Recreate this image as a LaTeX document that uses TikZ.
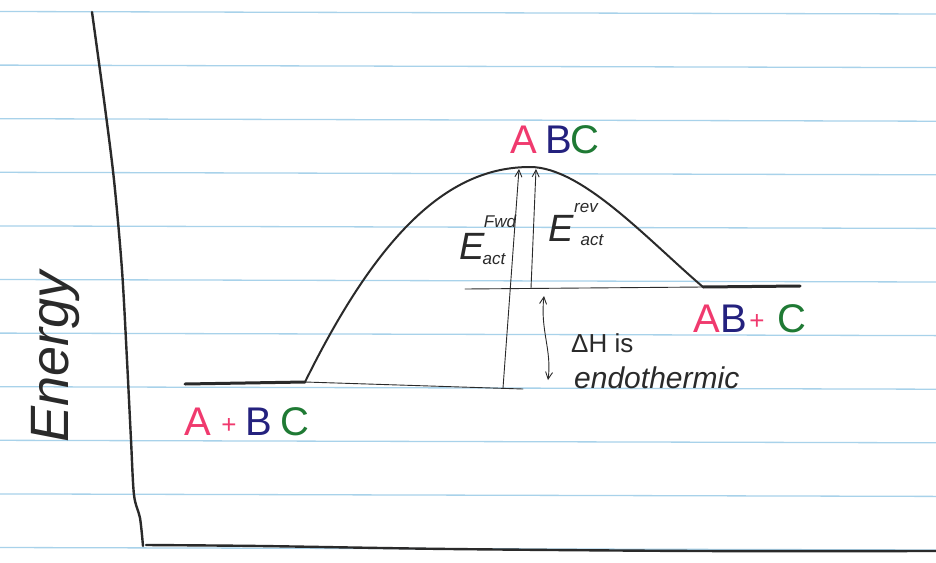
\documentclass[tikz,border=0pt]{standalone}
\usepackage{fontspec}
\setmainfont{Liberation Sans}
\usetikzlibrary{arrows.meta}
\definecolor{rulecol}{HTML}{A8D2EA}
\definecolor{ink}{HTML}{2A2A2A}
\definecolor{hpink}{HTML}{F03A6E}
\definecolor{hblue}{HTML}{24217E}
\definecolor{hgreen}{HTML}{1F7A34}
\begin{document}
\begin{tikzpicture}[x=1pt,y=-1pt,
  paperline/.style={draw=rulecol, line width=1.3pt},
  pen/.style={draw=ink, line width=2pt, line cap=round, line join=round},
  axispen/.style={draw=ink, line width=2.4pt, line cap=round, line join=round},
  boldpen/.style={draw=ink, line width=3pt, line cap=round},
  thinpen/.style={draw=ink, line width=0.9pt, line cap=round},
  arr/.style={thinpen, -{Straight Barb[length=7pt,width=7pt]}},
  darr/.style={thinpen, {Straight Barb[length=7pt,width=7pt]}-{Straight Barb[length=7pt,width=7pt]}},
  chem/.style={inner sep=0pt, font=\fontsize{40}{46}\selectfont},
  plus/.style={inner sep=0pt, text=hpink, font=\fontsize{26}{30}\selectfont},
  hand/.style={inner sep=0pt, text=ink, font=\itshape\fontsize{30}{34}\selectfont},
  small/.style={inner sep=0pt, text=ink, font=\itshape\fontsize{17}{20}\selectfont}]
\useasboundingbox (0,0) rectangle (936,562);
\fill[white] (0,0) rectangle (936,562);
% ruled paper
\foreach \k in {0,...,10}
  \draw[paperline] (0,{11.5+53.6*\k}) -- (936,{14+53.6*\k});
% axes
\draw[axispen] plot[smooth] coordinates {(92,12) (104,100) (114,180) (122,270) (127,360) (131,440) (134,495) (140,518) (143,546)};
\draw[axispen] plot[smooth] coordinates {(146,545) (260,546) (450,549) (700,551) (936,551)};
% key points
\coordinate (r0) at (185,384);
\coordinate (r1) at (305,382);
\coordinate (ts) at (530,167);
\coordinate (p0) at (703,287);
\coordinate (p1) at (800,286);
\coordinate (rx) at (523,389);
\coordinate (px) at (465,289);
% levels
\draw[boldpen] (r0) -- (r1);
\draw[boldpen] (p0) -- (p1);
\draw[thinpen] (r1) -- (rx);
\draw[thinpen] (px) -- (p0);
% reaction curve
\draw[pen] (r1) .. controls (380,230) and (450,167) .. (ts)
                .. controls (582,167) and (648,240) .. (p0);
% activation energy arrows
\coordinate (f0) at (503,388);
\coordinate (f1) at (519,169);
\coordinate (b0) at (531,288);
\coordinate (b1) at (536,169);
\draw[arr] (f0) -- (f1);
\draw[arr] (b0) -- (b1);
% Delta H arrow
\coordinate (h0) at (544,296);
\coordinate (h1) at (548,380);
\draw[darr] (h0) .. controls (540,330) and (552,350) .. (h1);
% labels
\node[chem, text=hpink] (tsA) at (524,140) {A};
\node[chem, text=hblue] (tsB) at (559,140) {B};
\node[chem, text=hgreen] (tsC) at (585,140) {C};
\node[chem, text=hpink] (pA) at (707,319) {A};
\node[chem, text=hblue] (pB) at (734,319) {B};
\node[plus] (pplus) at (757,322) {+};
\node[chem, text=hgreen] (pC) at (792,319) {C};
\node[chem, text=hpink] (rA) at (198,422) {A};
\node[plus] (rplus) at (229,426) {+};
\node[chem, text=hblue] (rB) at (259,422) {B};
\node[chem, text=hgreen] (rC) at (295,422) {C};
% E act fwd
\node[hand, font=\itshape\fontsize{38}{40}\selectfont] (eF) at (472,246) {E};
\node[small] (eFs) at (500,221) {Fwd};
\node[small] (eFb) at (494,259) {act};
% E act rev
\node[hand, font=\itshape\fontsize{38}{40}\selectfont] (eR) at (561,228) {E};
\node[small] (eRs) at (586,208) {rev};
\node[small] (eRb) at (592,240) {act};
% Delta H
\node[hand, anchor=west, font=\fontsize{26}{30}\selectfont] (dH) at (571,343) {ΔH is};
\node[hand, anchor=west] (endo) at (574,378) {endothermic};
% axis label
\node[hand, rotate=90, font=\itshape\fontsize{54}{60}\selectfont] (energy) at (56,357) {Energy};
\end{tikzpicture}
\end{document}
